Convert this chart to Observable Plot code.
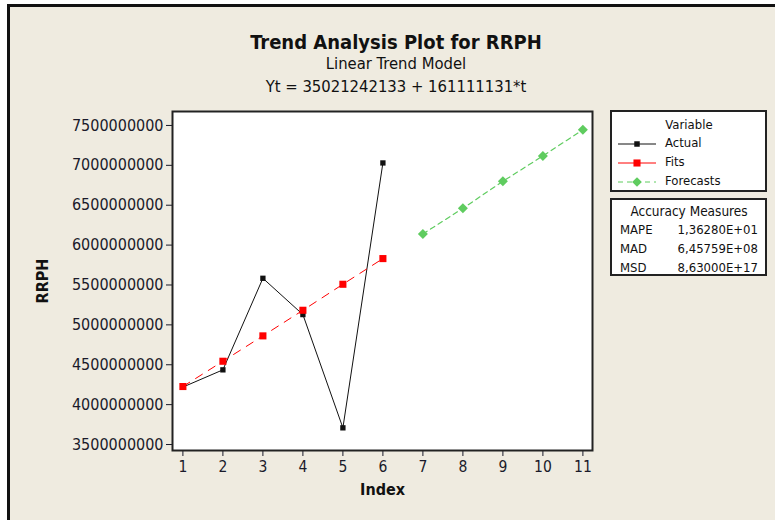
<!DOCTYPE html>
<html>
<head>
<meta charset="utf-8">
<script src="https://cdn.jsdelivr.net/npm/d3@7"></script>
<script src="https://cdn.jsdelivr.net/npm/@observablehq/plot@0.6"></script>
<style>
  html, body { margin: 0; padding: 0; background: #ffffff; }
  #wrap { position: relative; width: 775px; height: 520px; overflow: hidden; background: #ffffff; font-family: "DejaVu Sans Condensed", "DejaVu Sans", sans-serif; }
  #panel { position: absolute; left: 7px; top: 4px; width: 800px; height: 600px; background: #efebe0; border-left: 3px solid #111; border-top: 3px solid #111; box-sizing: border-box; }
  #chart { position: absolute; left: 0; top: 0; }
  .t { position: absolute; left: 0; width: 792px; text-align: center; color: #111; white-space: nowrap; }
  .box { position: absolute; background: #fff; border: 2px solid #222; box-sizing: border-box; color: #111; font-size: 13px; }
  .row { position: absolute; white-space: nowrap; }
</style>
</head>
<body>
<div id="wrap">
  <div id="panel"></div>
  <div id="chart"></div>
  <div class="t" style="top:30px;font-size:20px;font-weight:bold;">Trend Analysis Plot for RRPH</div>
  <div class="t" style="top:54px;font-size:16.5px;">Linear Trend Model</div>
  <div class="t" style="top:77px;font-size:16.5px;">Yt = 35021242133 + 161111131*t</div>
  <div class="box" style="left:610px;top:110px;width:157px;height:82px;">
    <div class="row" style="left:0;width:154px;text-align:center;top:5px;">Variable</div>
    <svg class="row" style="left:4px;top:23px;" width="46" height="60" id="legsym"></svg>
    <div class="row" style="left:53px;top:23px;">Actual</div>
    <div class="row" style="left:53px;top:42px;">Fits</div>
    <div class="row" style="left:53px;top:61px;">Forecasts</div>
  </div>
  <div class="box" style="left:610px;top:198px;width:157px;height:78px;">
    <div class="row" style="left:0;width:154px;text-align:center;top:3px;font-size:13.5px;">Accuracy Measures</div>
    <div class="row" style="left:8px;top:22px;">MAPE</div><div class="row" style="right:7px;top:22px;">1,36280E+01</div>
    <div class="row" style="left:8px;top:41px;">MAD</div><div class="row" style="right:7px;top:41px;">6,45759E+08</div>
    <div class="row" style="left:8px;top:60px;">MSD</div><div class="row" style="right:7px;top:60px;">8,63000E+17</div>
  </div>
</div>
<script>
// Data
const actualIndex = [1, 2, 3, 4, 5, 6];
const actualValues = [4220e6, 4436e6, 5584e6, 5129e6, 3709e6, 7030e6];
const fitsIndex = [1, 2, 3, 4, 5, 6];
const fitsValues = [4227e6, 4544e6, 4862e6, 5183e6, 5509e6, 5831e6];
const forecastIndex = [7, 8, 9, 10, 11];
const forecastValues = [6140e6, 6461e6, 6800e6, 7118e6, 7446e6];
const yTicks = [3500e6, 4000e6, 4500e6, 5000e6, 5500e6, 6000e6, 6500e6, 7000e6, 7500e6];
const xTicks = [1, 2, 3, 4, 5, 6, 7, 8, 9, 10, 11];

const actual = actualIndex.map((t, i) => ({t, v: actualValues[i]}));
const fits = fitsIndex.map((t, i) => ({t, v: fitsValues[i]}));
const forecasts = forecastIndex.map((t, i) => ({t, v: forecastValues[i]}));

const green = "#5fcc5f";
const chart = Plot.plot({
  width: 775,
  height: 520,
  marginLeft: 172,
  marginRight: 183,
  marginTop: 111,
  marginBottom: 70,
  style: {background: "transparent", fontFamily: "'DejaVu Sans Condensed', 'DejaVu Sans', sans-serif", color: "#1a1a2a"},
  x: {domain: [0.74, 11.24]},
  y: {domain: [3425e6, 7675e6]},
  marks: [
    Plot.frame({fill: "white"}),
    Plot.axisY({ticks: yTicks, tickFormat: d3.format("d"), tickSize: 6, tickPadding: 3, fontSize: 16, label: "RRPH", labelAnchor: "center", labelArrow: "none", labelOffset: 136}),
    Plot.axisX({ticks: xTicks, tickFormat: d3.format("d"), tickSize: 6, tickPadding: 4, fontSize: 15.5, label: "Index", labelAnchor: "center", labelArrow: "none", labelOffset: 44}),
    Plot.line(actual, {x: "t", y: "v", stroke: "#111", strokeWidth: 1}),
    Plot.dot(actual, {x: "t", y: "v", symbol: "square", r: 3, fill: "#111", stroke: "none"}),
    Plot.line(fits, {x: "t", y: "v", stroke: "#ff0000", strokeWidth: 1, strokeDasharray: "8,7"}),
    Plot.dot(fits, {x: "t", y: "v", symbol: "square", r: 4, fill: "#ff0000", stroke: "none"}),
    Plot.line(forecasts, {x: "t", y: "v", stroke: green, strokeWidth: 1.2, strokeDasharray: "5,4"}),
    Plot.dot(forecasts, {x: "t", y: "v", symbol: "diamond2", r: 4.5, fill: green, stroke: "none"}),
    Plot.frame({stroke: "#222", strokeWidth: 2})
  ]
});
chart.querySelectorAll('[aria-label="y-axis label"] text, [aria-label="x-axis label"] text').forEach(t => { t.style.fontWeight = "bold"; t.style.fontSize = "16px"; t.style.fill = "#111"; });
document.getElementById("chart").appendChild(chart);

// legend symbols
const s = d3.select("#legsym");
s.append("line").attr("x1", 2).attr("x2", 40).attr("y1", 9).attr("y2", 9).attr("stroke", "#111");
s.append("path").attr("d", d3.symbol(d3.symbolSquare, 30)()).attr("transform", "translate(21,9)").attr("fill", "#111");
s.append("line").attr("x1", 2).attr("x2", 40).attr("y1", 28).attr("y2", 28).attr("stroke", "#ff0000");
s.append("path").attr("d", d3.symbol(d3.symbolSquare, 50)()).attr("transform", "translate(21,28)").attr("fill", "#ff0000");
s.append("line").attr("x1", 2).attr("x2", 40).attr("y1", 47).attr("y2", 47).attr("stroke", green).attr("stroke-dasharray", "5,4");
s.append("path").attr("d", d3.symbol(d3.symbolDiamond2, 60)()).attr("transform", "translate(21,47)").attr("fill", green);
</script>
</body>
</html>
